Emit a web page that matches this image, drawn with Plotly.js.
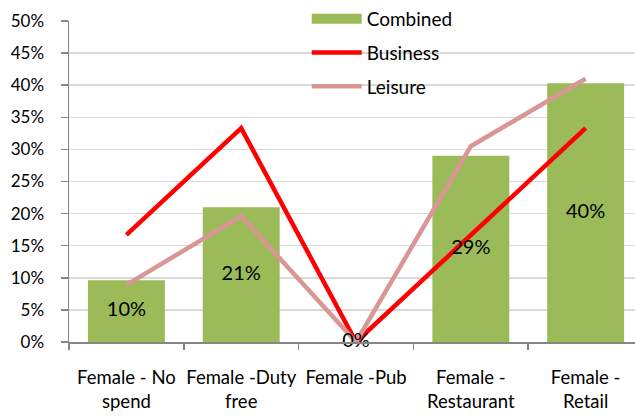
<!DOCTYPE html>
<html><head><meta charset="utf-8">
<script src="https://cdn.plot.ly/plotly-3.0.1.min.js"></script>
<style>html,body{margin:0;padding:0;background:#fff}#chart{width:635px;height:418px}</style>
</head><body><div id="chart"></div>
<script>
const categories = ["Female - No<br>spend", "Female -Duty<br>free", "Female -Pub", "Female -<br>Restaurant", "Female -<br>Retail"];
const combined = [0.096, 0.210, 0.0, 0.290, 0.403];
const business = [0.167, 0.333, 0.0, 0.167, 0.333];
const leisure = [0.089, 0.196, 0.0, 0.305, 0.410];
const yTickVals = [0, 0.05, 0.1, 0.15, 0.2, 0.25, 0.3, 0.35, 0.4, 0.45, 0.5];

const font = "Lato, 'Open Sans', sans-serif";
const green = '#9bbb59';
const traces = [
  {type: 'bar', name: 'Combined', x: categories, y: combined, marker: {color: green}, width: 0.67, showlegend: false, hoverinfo: 'skip'},
  {type: 'scatter', mode: 'lines', name: 'Combined', x: [null], y: [null], line: {color: green, width: 12}, legendgroup: 'a', showlegend: true},
  {type: 'scatter', mode: 'lines', name: 'Business', x: categories, y: business, line: {color: '#ff0000', width: 4.5}, legendgroup: 'b'},
  {type: 'scatter', mode: 'lines', name: 'Leisure', x: categories, y: leisure, line: {color: '#d99694', width: 4.5}, legendgroup: 'c'},
  {type: 'scatter', mode: 'text', x: categories, y: combined.map(v => v / 2), text: combined.map(v => Math.round(v * 100) + '%'),
   textposition: 'middle center', textfont: {family: font, size: 20, color: '#000'}, showlegend: false, cliponaxis: false, hoverinfo: 'skip'}
];
const layout = {
  width: 635, height: 418,
  margin: {l: 69, r: 0, t: 20, b: 76},
  paper_bgcolor: '#fff', plot_bgcolor: '#fff',
  font: {family: font, size: 17, color: '#000'},
  showlegend: true,
  legend: {x: 0.42, y: 1.066, xanchor: 'left', yanchor: 'top', bgcolor: 'rgba(0,0,0,0)', traceorder: 'grouped', tracegroupgap: 6, itemwidth: 50, font: {family: font, size: 19}},
  xaxis: {type: 'category', range: [-0.5, 4.43], tickangle: 0, showline: true, linecolor: '#868686', linewidth: 1.5, ticks: 'outside', tickson: 'boundaries', ticklen: 6, tickcolor: '#868686', tickwidth: 1.5, showgrid: false, ticklabelstandoff: 18, tickfont: {family: font, size: 18.5}},
  yaxis: {range: [0, 0.5], tickvals: yTickVals, tickformat: '.0%', showline: true, linecolor: '#868686', linewidth: 1.5, ticks: 'outside', ticklen: 7, tickcolor: '#868686', tickwidth: 1.5, gridcolor: '#d9d9d9', gridwidth: 1.5, zeroline: false, ticklabelstandoff: 13, tickfont: {family: font, size: 17}}
};
Plotly.newPlot('chart', traces, layout, {displayModeBar: false, staticPlot: true});
</script></body></html>
